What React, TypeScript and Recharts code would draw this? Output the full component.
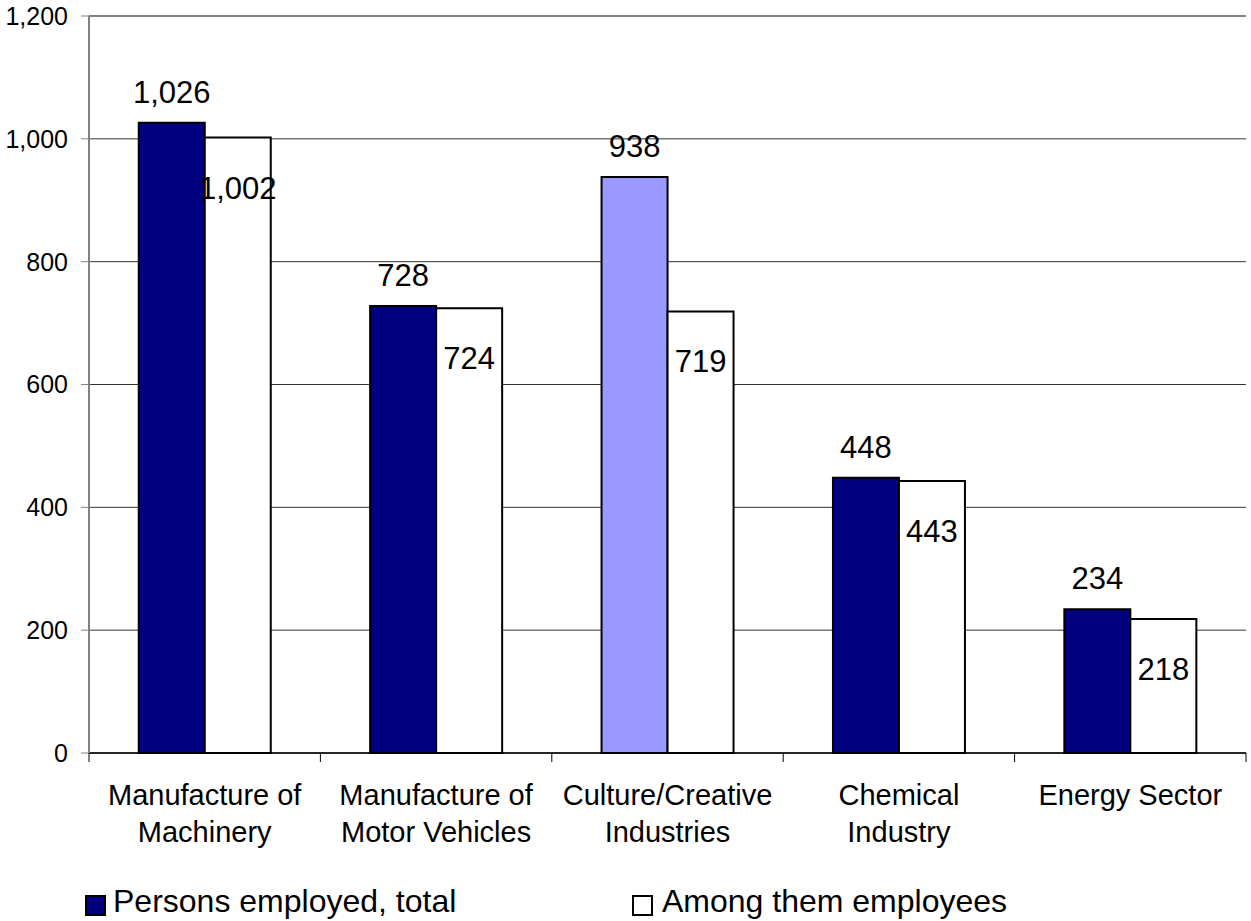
import { BarChart, Bar, XAxis, YAxis, CartesianGrid, LabelList, Cell, ReferenceLine } from 'recharts';

const categories = [
	'Manufacture of\nMachinery',
	'Manufacture of\nMotor Vehicles',
	'Culture/Creative\nIndustries',
	'Chemical\nIndustry',
	'Energy Sector',
];
const personsEmployed = [1026, 728, 938, 448, 234];
const employees = [1002, 724, 719, 443, 218];
const seriesNames = ['Persons employed, total', 'Among them employees'];
const yTicks = [0, 200, 400, 600, 800, 1000, 1200];

const FONT = '"Liberation Sans", Arial, sans-serif';
const NAVY = '#000080';
const HIGHLIGHT = '#9999FF';

const data = categories.map((name, i) => ({
	name,
	persons: personsEmployed[i],
	employees: employees[i],
}));

const fmt = (v: number) => v.toLocaleString('en-US');

// x tick: two-line label plus boundary tick marks between categories
const CategoryTick = (props: any) => {
	const { x, y, payload, index } = props;
	const half = payload && payload.offset ? payload.offset : 115.7;
	const lines = String(payload.value).split('\n');
	return (
		<g>
			<line x1={x - half} y1={y} x2={x - half} y2={y + 9} stroke="#000" strokeWidth={1} />
			{index === categories.length - 1 && (
				<line x1={x + half} y1={y} x2={x + half} y2={y + 9} stroke="#000" strokeWidth={1} />
			)}
			<text x={x} y={y} textAnchor="middle" fontFamily={FONT} fontSize={29} fill="#000">
				{lines.map((line, i) => (
					<tspan key={i} x={x} dy={i === 0 ? 52 : 37}>
						{line}
					</tspan>
				))}
			</text>
		</g>
	);
};

const topLabel = (props: any) => {
	const { x, y, width, value } = props;
	return (
		<text x={x + width / 2} y={y - 20} textAnchor="middle" fontFamily={FONT} fontSize={31} fill="#000">
			{fmt(value)}
		</text>
	);
};

const insideLabel = (props: any) => {
	const { x, y, width, value } = props;
	return (
		<text x={x + width / 2} y={y + 61} textAnchor="middle" fontFamily={FONT} fontSize={31} fill="#000">
			{fmt(value)}
		</text>
	);
};

const legendItems = [
	{ name: seriesNames[0], color: NAVY, left: 85, textLeft: 113 },
	{ name: seriesNames[1], color: '#fff', left: 632, textLeft: 662 },
];

export default function App() {
	return (
		<div style={{ position: 'absolute', left: 0, top: 0, width: 1251, height: 921, background: '#fff' }}>
			<BarChart
				width={1251}
				height={921}
				data={data}
				margin={{ top: 16, right: 5, bottom: 0, left: 0 }}
				barCategoryGap="21.5%"
				barGap={0}
			>
				<CartesianGrid vertical={false} stroke="#333" />
				<ReferenceLine y={1200} stroke="#808080" strokeWidth={2} />
				<XAxis
					dataKey="name"
					height={168}
					interval={0}
					tickLine={false}
					tickSize={0}
					tickMargin={0}
					axisLine={{ stroke: '#000', strokeWidth: 1.5 }}
					tick={<CategoryTick />}
				/>
				<YAxis
					width={89}
					domain={[0, 1200]}
					ticks={yTicks}
					interval={0}
					tickSize={8}
					tickMargin={13}
					tickFormatter={fmt}
					axisLine={{ stroke: '#808080', strokeWidth: 2 }}
					tickLine={{ stroke: '#808080' }}
					tick={{ fontSize: 25, fill: '#000', fontFamily: FONT }}
				/>
				<YAxis
					yAxisId="right"
					orientation="right"
					width={0}
					tick={false}
					tickLine={false}
					axisLine={{ stroke: '#808080', strokeWidth: 2 }}
				/>
				<Bar dataKey="persons" name={seriesNames[0]} fill={NAVY} stroke="#000" strokeWidth={2} isAnimationActive={false}>
					{data.map((_, i) => (
						<Cell key={i} fill={i === 2 ? HIGHLIGHT : NAVY} />
					))}
					<LabelList dataKey="persons" content={topLabel} />
				</Bar>
				<Bar dataKey="employees" name={seriesNames[1]} fill="#fff" stroke="#000" strokeWidth={2} isAnimationActive={false}>
					<LabelList dataKey="employees" content={insideLabel} />
				</Bar>
			</BarChart>
			{legendItems.map((item) => (
				<div key={item.name}>
					<div
						style={{
							position: 'absolute',
							left: item.left,
							top: 895,
							width: 17,
							height: 17,
							background: item.color,
							border: '2px solid #000',
						}}
					/>
					<div
						style={{
							position: 'absolute',
							left: item.textLeft,
							top: 883,
							fontFamily: FONT,
							fontSize: 32,
							lineHeight: '37px',
							color: '#000',
							whiteSpace: 'nowrap',
						}}
					>
						{item.name}
					</div>
				</div>
			))}
		</div>
	);
}
